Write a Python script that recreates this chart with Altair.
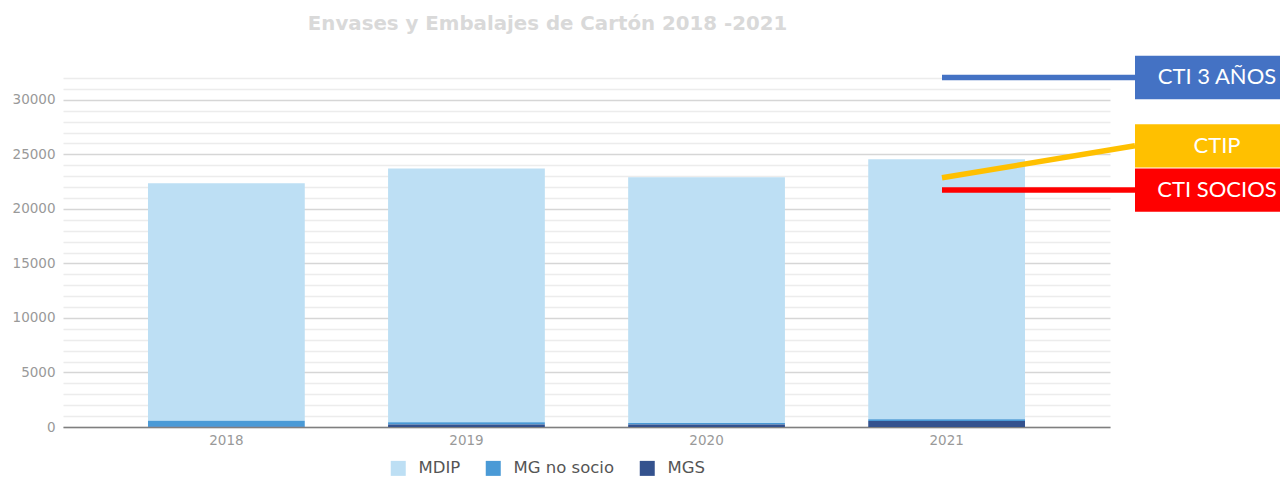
import altair as alt
import pandas as pd

# ---- data ----
years = ["2018", "2019", "2020", "2021"]
mdip = [21780, 23270, 22530, 23830]
mg_no_socio = [550, 200, 140, 170]
mgs = [20, 230, 230, 550]

series_names = ["MDIP", "MG no socio", "MGS"]
series_colors = ["#bddff4", "#4a9ad6", "#34528e"]

ann_labels = ["CTI 3 AÑOS", "CTIP", "CTI SOCIOS"]
ann_start = [32050, 22850, 21720]
ann_end = [32050, 25780, 21720]
ann_colors = ["#4472c4", "#ffc000", "#ff0000"]

title_text = "Envases y Embalajes de Cartón 2018 -2021"

# ---- tables ----
rows = []
for i, y in enumerate(years):
    rows.append({"year": y, "serie": "MDIP", "value": mdip[i], "ord": 2})
    rows.append({"year": y, "serie": "MG no socio", "value": mg_no_socio[i], "ord": 1})
    rows.append({"year": y, "serie": "MGS", "value": mgs[i], "ord": 0})
df = pd.DataFrame(rows)

ann = pd.DataFrame({"label": ann_labels, "start": ann_start, "end": ann_end, "col": ann_colors})

FONT = "DejaVu Sans"
yscale = alt.Scale(domain=[0, 32000], nice=False, zero=True)
yaxis = alt.Axis(values=list(range(0, 32001, 1000)), format="d",
                 labelExpr="datum.value % 5000 === 0 ? datum.label : ''",
                 labelOverlap=False,
                 gridColor={"condition": {"test": "datum.value % 5000 === 0", "value": "#d6d6d6"},
                            "value": "#ececec"},
                 gridWidth=1.6, domain=False, ticks=False,
                 labelColor="#999999", labelFontSize=13.5, labelPadding=8,
                 title=None, labelFont=FONT)

bars = alt.Chart(df).mark_bar().encode(
    x=alt.X("year:N", sort=years,
            scale=alt.Scale(paddingInner=0.347, paddingOuter=0.354),
            axis=alt.Axis(labelAngle=0, domainColor="#7f7f7f", domainWidth=1.5,
                          ticks=False, labelColor="#999999", labelFontSize=13.5,
                          labelPadding=6, title=None, grid=False, labelFont=FONT)),
    y=alt.Y("value:Q", stack="zero", scale=yscale, axis=yaxis),
    color=alt.Color("serie:N", scale=alt.Scale(domain=series_names, range=series_colors),
                    legend=alt.Legend(title=None, orient="none", direction="horizontal",
                                      legendX=327, legendY=382, symbolType="square",
                                      symbolSize=225, symbolStrokeWidth=0,
                                      labelFontSize=16.5, labelColor="#555555",
                                      labelFont=FONT, labelOffset=12, columnPadding=24)),
    order=alt.Order("ord:Q", sort="ascending"),
)

lines = alt.Chart(ann).mark_rule(strokeWidth=5.5, strokeCap="butt").encode(
    x=alt.value(879), x2=alt.value(1072),
    y=alt.Y("start:Q", scale=yscale, axis=yaxis),
    y2="end:Q",
    stroke=alt.Stroke("col:N", scale=None, legend=None),
)

boxes = alt.Chart(ann).mark_rule(strokeWidth=43.4, strokeCap="butt").encode(
    x=alt.value(1072), x2=alt.value(1240),
    y=alt.Y("end:Q", scale=yscale, axis=yaxis),
    stroke=alt.Stroke("col:N", scale=None, legend=None),
)

texts = alt.Chart(ann).mark_text(color="white", font="Lato", fontSize=22,
                                 baseline="middle", align="center").encode(
    x=alt.value(1154),
    y=alt.Y("end:Q", scale=yscale, axis=yaxis),
    text="label:N",
)

chart = alt.layer(bars, lines, boxes, texts).properties(
    width=1047, height=349,
    title=alt.TitleParams(title_text, anchor="middle", dx=-39, offset=22,
                          fontSize=19.8, fontWeight="bold", color="#d9d9d9", font=FONT),
    padding={"left": 55, "top": 70, "right": 170, "bottom": 51},
    autosize=alt.AutoSizeParams(type="none"),
).configure(font=FONT).configure_view(stroke=None)

chart.save("out.html", embed_options={"renderer": "svg", "actions": False})
